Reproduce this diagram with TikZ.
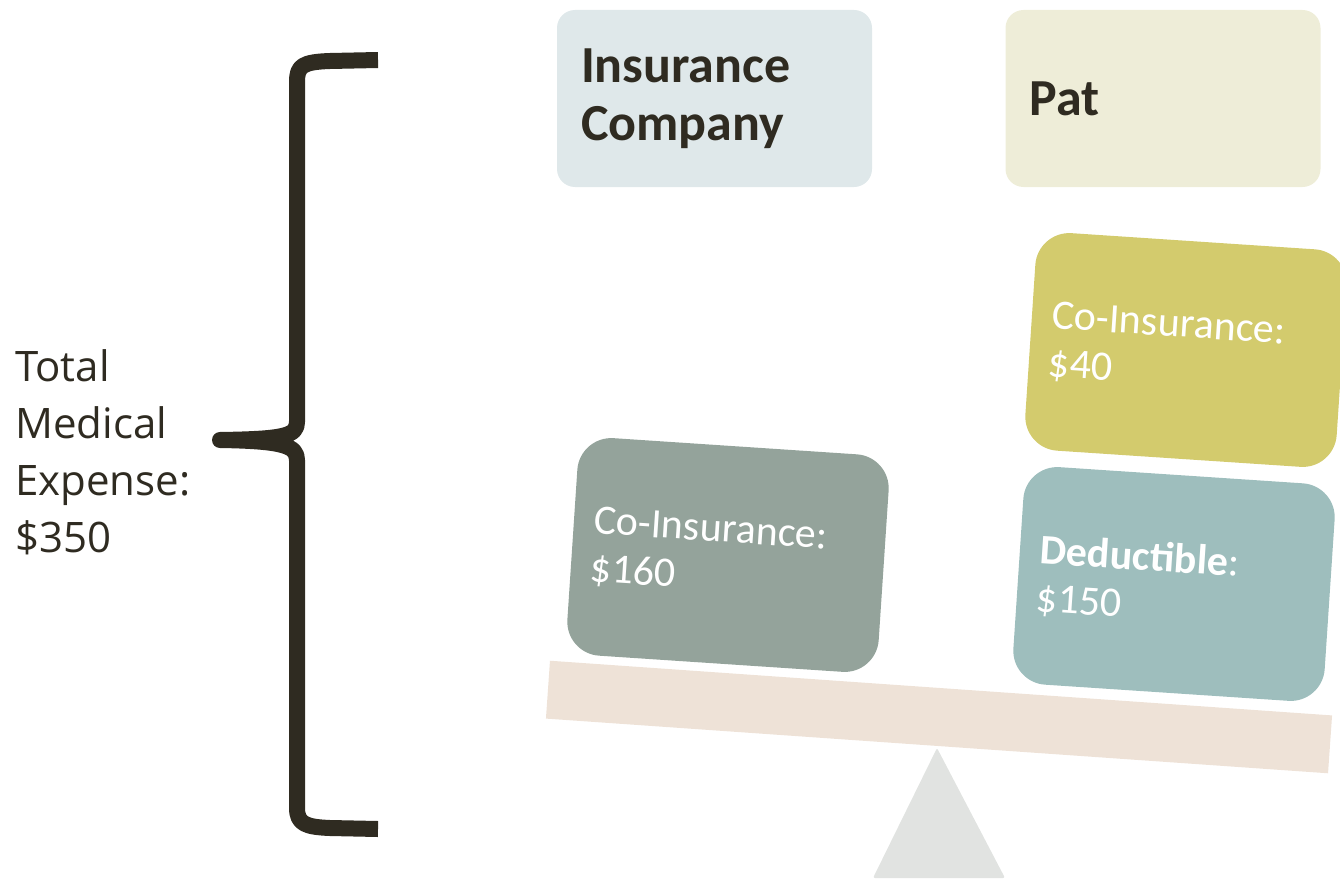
\documentclass[tikz,border=0pt]{standalone}
\usepackage{fontspec}
\setmainfont{Carlito}
\newfontfamily\sidefont{Open Sans}

\definecolor{ink}{HTML}{2F2B21}
\definecolor{insblue}{HTML}{DFE8EA}
\definecolor{patcream}{HTML}{EEEDD8}
\definecolor{wtyellow}{HTML}{D3CB6D}
\definecolor{wtgray}{HTML}{94A39B}
\definecolor{wtteal}{HTML}{9EBEBD}
\definecolor{beam}{HTML}{EEE2D7}
\definecolor{pivot}{HTML}{E1E3E1}

\tikzset{
  header/.style={rounded corners=18pt, minimum width=315pt, minimum height=177pt,
    text width=267pt, inner xsep=24pt, align=left, text=ink,
    font=\fontsize{52}{58}\selectfont\bfseries},
  weight/.style={rounded corners=34pt, minimum width=312pt, minimum height=218pt,
    text width=272pt, inner xsep=20pt, align=left, text=white,
    font=\fontsize{42}{48}\selectfont, rotate=-3.8},
  plankbar/.style={fill=beam, minimum width=784pt, minimum height=58pt,
    inner sep=0pt, rotate=-4},
  sidetext/.style={align=left, text=ink, inner sep=0pt,
    font=\sidefont\fontsize{42}{57}\selectfont},
}

\begin{document}
\begin{tikzpicture}[x=1pt,y=-1pt]
\useasboundingbox (0,0) rectangle (1340,880);

% seesaw: pivot and beam
\fill[pivot, rounded corners=2pt] (937,748) -- (1005,878) -- (873,878) -- cycle;
\node[plankbar] (plank) at (939,717) {};

% the weights on each side
\node[weight, fill=wtgray] (insco) at (728,555) {Co-Insurance:\\\$160};
\node[weight, fill=wtteal] (deduct) at (1174,584) {\textbf{Deductible}:\\\$150};
\node[weight, fill=wtyellow] (patco) at (1186,350) {Co-Insurance:\\\$40};

% who pays
\node[header, fill=insblue] (company) at (714.5,98.5) {Insurance\\Company};
\node[header, fill=patcream] (pat) at (1163,98.5) {Pat};

% big brace with the total
\draw[ink, line width=16pt, line join=round]
  (378,60) -- (330,61) .. controls (302,62) and (297,66) .. (297,82)
  -- (297,422) .. controls (297,436) and (284,439) .. (220,440)
  .. controls (284,441) and (297,446) .. (297,460)
  -- (297,808) .. controls (297,824) and (306,827) .. (330,828) -- (378,829);
\node[sidetext, anchor=west] (total) at (15,452) {Total\\Medical\\Expense:\\\$350};
\end{tikzpicture}
\end{document}
